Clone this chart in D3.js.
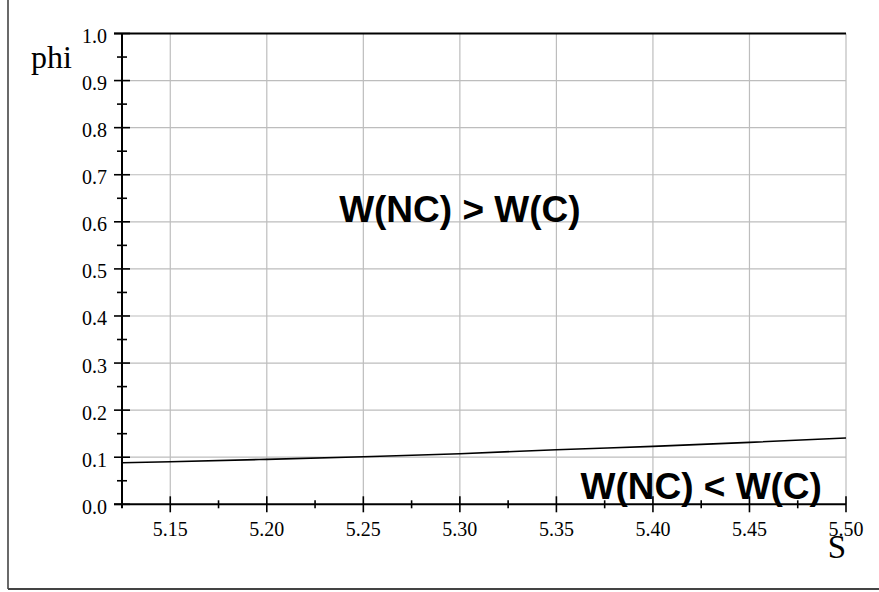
<!DOCTYPE html>
<html>
<head>
<meta charset="utf-8">
<script src="https://cdn.jsdelivr.net/npm/d3@7"></script>
<style>
  html, body { margin: 0; padding: 0; background: #fff; }
  svg { display: block; }
</style>
</head>
<body>
<svg id="chart" width="879" height="592"></svg>
<script>
// ---- data ----
const sValues   = [5.125, 5.15, 5.20, 5.25, 5.30, 5.35, 5.40, 5.45, 5.50];
const phiValues = [0.0883, 0.0904, 0.0955, 0.1011, 0.1074, 0.1159, 0.1231, 0.1316, 0.1408];
const xMajorTicks = [5.15, 5.20, 5.25, 5.30, 5.35, 5.40, 5.45, 5.50];
const xMinorTicks = [5.175, 5.225, 5.275, 5.325, 5.375, 5.425, 5.475];
const yMajorTicks = [0.0, 0.1, 0.2, 0.3, 0.4, 0.5, 0.6, 0.7, 0.8, 0.9, 1.0];
const yMinorTicks = [0.05, 0.15, 0.25, 0.35, 0.45, 0.55, 0.65, 0.75, 0.85, 0.95];
const annotations = [
  { text: "W(NC) > W(C)", s: 5.30, phi: 0.60 },
  { text: "W(NC) < W(C)", s: 5.425, phi: 0.011 }
];
const xLabel = "S";
const yLabel = "phi";

// ---- drawing ----
const svg = d3.select("#chart");
const x = d3.scaleLinear().domain([5.125, 5.50]).range([122, 846]);
const y = d3.scaleLinear().domain([0, 1]).range([504.3, 33.5]);

// outer frame (left & bottom visible)
svg.append("line").attr("x1", 8).attr("x2", 8).attr("y1", 0).attr("y2", 589)
  .attr("stroke", "#444").attr("stroke-width", 1.6);
svg.append("line").attr("x1", 8).attr("x2", 879).attr("y1", 589).attr("y2", 589)
  .attr("stroke", "#444").attr("stroke-width", 2);

const grid = "#bdbdbd";
// vertical grid
svg.append("g").selectAll("line").data(xMajorTicks).join("line")
  .attr("x1", d => x(d)).attr("x2", d => x(d))
  .attr("y1", y(1)).attr("y2", y(0))
  .attr("stroke", grid).attr("stroke-width", 1.2);
// horizontal grid
svg.append("g").selectAll("line").data(yMajorTicks.filter(d => d > 0 && d < 1)).join("line")
  .attr("x1", x(5.125)).attr("x2", x(5.50))
  .attr("y1", d => y(d)).attr("y2", d => y(d))
  .attr("stroke", grid).attr("stroke-width", 1.2);

// top border
svg.append("line").attr("x1", 114).attr("x2", x(5.50)).attr("y1", y(1)).attr("y2", y(1))
  .attr("stroke", "#000").attr("stroke-width", 2);

// y axis line
svg.append("line").attr("x1", x(5.125)).attr("x2", x(5.125)).attr("y1", y(1)).attr("y2", y(0) + 4)
  .attr("stroke", "#000").attr("stroke-width", 2);
// x axis line
svg.append("line").attr("x1", 114).attr("x2", x(5.50)).attr("y1", y(0)).attr("y2", y(0))
  .attr("stroke", "#000").attr("stroke-width", 2);

// y ticks
svg.append("g").selectAll("line").data(yMajorTicks).join("line")
  .attr("x1", 114).attr("x2", 130)
  .attr("y1", d => y(d)).attr("y2", d => y(d))
  .attr("stroke", "#000").attr("stroke-width", 1.6);
svg.append("g").selectAll("line").data(yMinorTicks).join("line")
  .attr("x1", 117).attr("x2", 127)
  .attr("y1", d => y(d)).attr("y2", d => y(d))
  .attr("stroke", "#000").attr("stroke-width", 1.6);
// x ticks
svg.append("g").selectAll("line").data(xMajorTicks).join("line")
  .attr("x1", d => x(d)).attr("x2", d => x(d))
  .attr("y1", y(0) - 8).attr("y2", y(0) + 8)
  .attr("stroke", "#000").attr("stroke-width", 1.6);
svg.append("g").selectAll("line").data(xMinorTicks).join("line")
  .attr("x1", d => x(d)).attr("x2", d => x(d))
  .attr("y1", y(0) - 4).attr("y2", y(0) + 4)
  .attr("stroke", "#000").attr("stroke-width", 1.6);

// tick labels
const serif = "'Liberation Serif', 'Times New Roman', serif";
svg.append("g").selectAll("text").data(yMajorTicks).join("text")
  .attr("x", 107).attr("y", d => y(d) + 9.5)
  .attr("text-anchor", "end")
  .attr("font-family", serif).attr("font-size", 20)
  .text(d => d.toFixed(1));
svg.append("g").selectAll("text").data(xMajorTicks).join("text")
  .attr("x", d => x(d)).attr("y", y(0) + 32)
  .attr("text-anchor", "middle")
  .attr("font-family", serif).attr("font-size", 20)
  .text(d => d.toFixed(2));

// axis titles
svg.append("text").attr("x", 31).attr("y", 68)
  .attr("font-family", serif).attr("font-size", 32).text(yLabel);
svg.append("text").attr("x", x(5.50)).attr("y", 558)
  .attr("text-anchor", "end")
  .attr("font-family", serif).attr("font-size", 33).text(xLabel);

// curve
const line = d3.line().x((d, i) => x(sValues[i])).y(d => y(d)).curve(d3.curveMonotoneX);
svg.append("path").datum(phiValues)
  .attr("d", line).attr("fill", "none")
  .attr("stroke", "#000").attr("stroke-width", 1.6);

// annotations
svg.append("g").selectAll("text").data(annotations).join("text")
  .attr("x", d => x(d.s)).attr("y", d => y(d.phi))
  .attr("text-anchor", "middle")
  .attr("font-family", "'Liberation Sans', Arial, sans-serif")
  .attr("font-weight", "bold").attr("font-size", 37)
  .text(d => d.text);
</script>
</body>
</html>
